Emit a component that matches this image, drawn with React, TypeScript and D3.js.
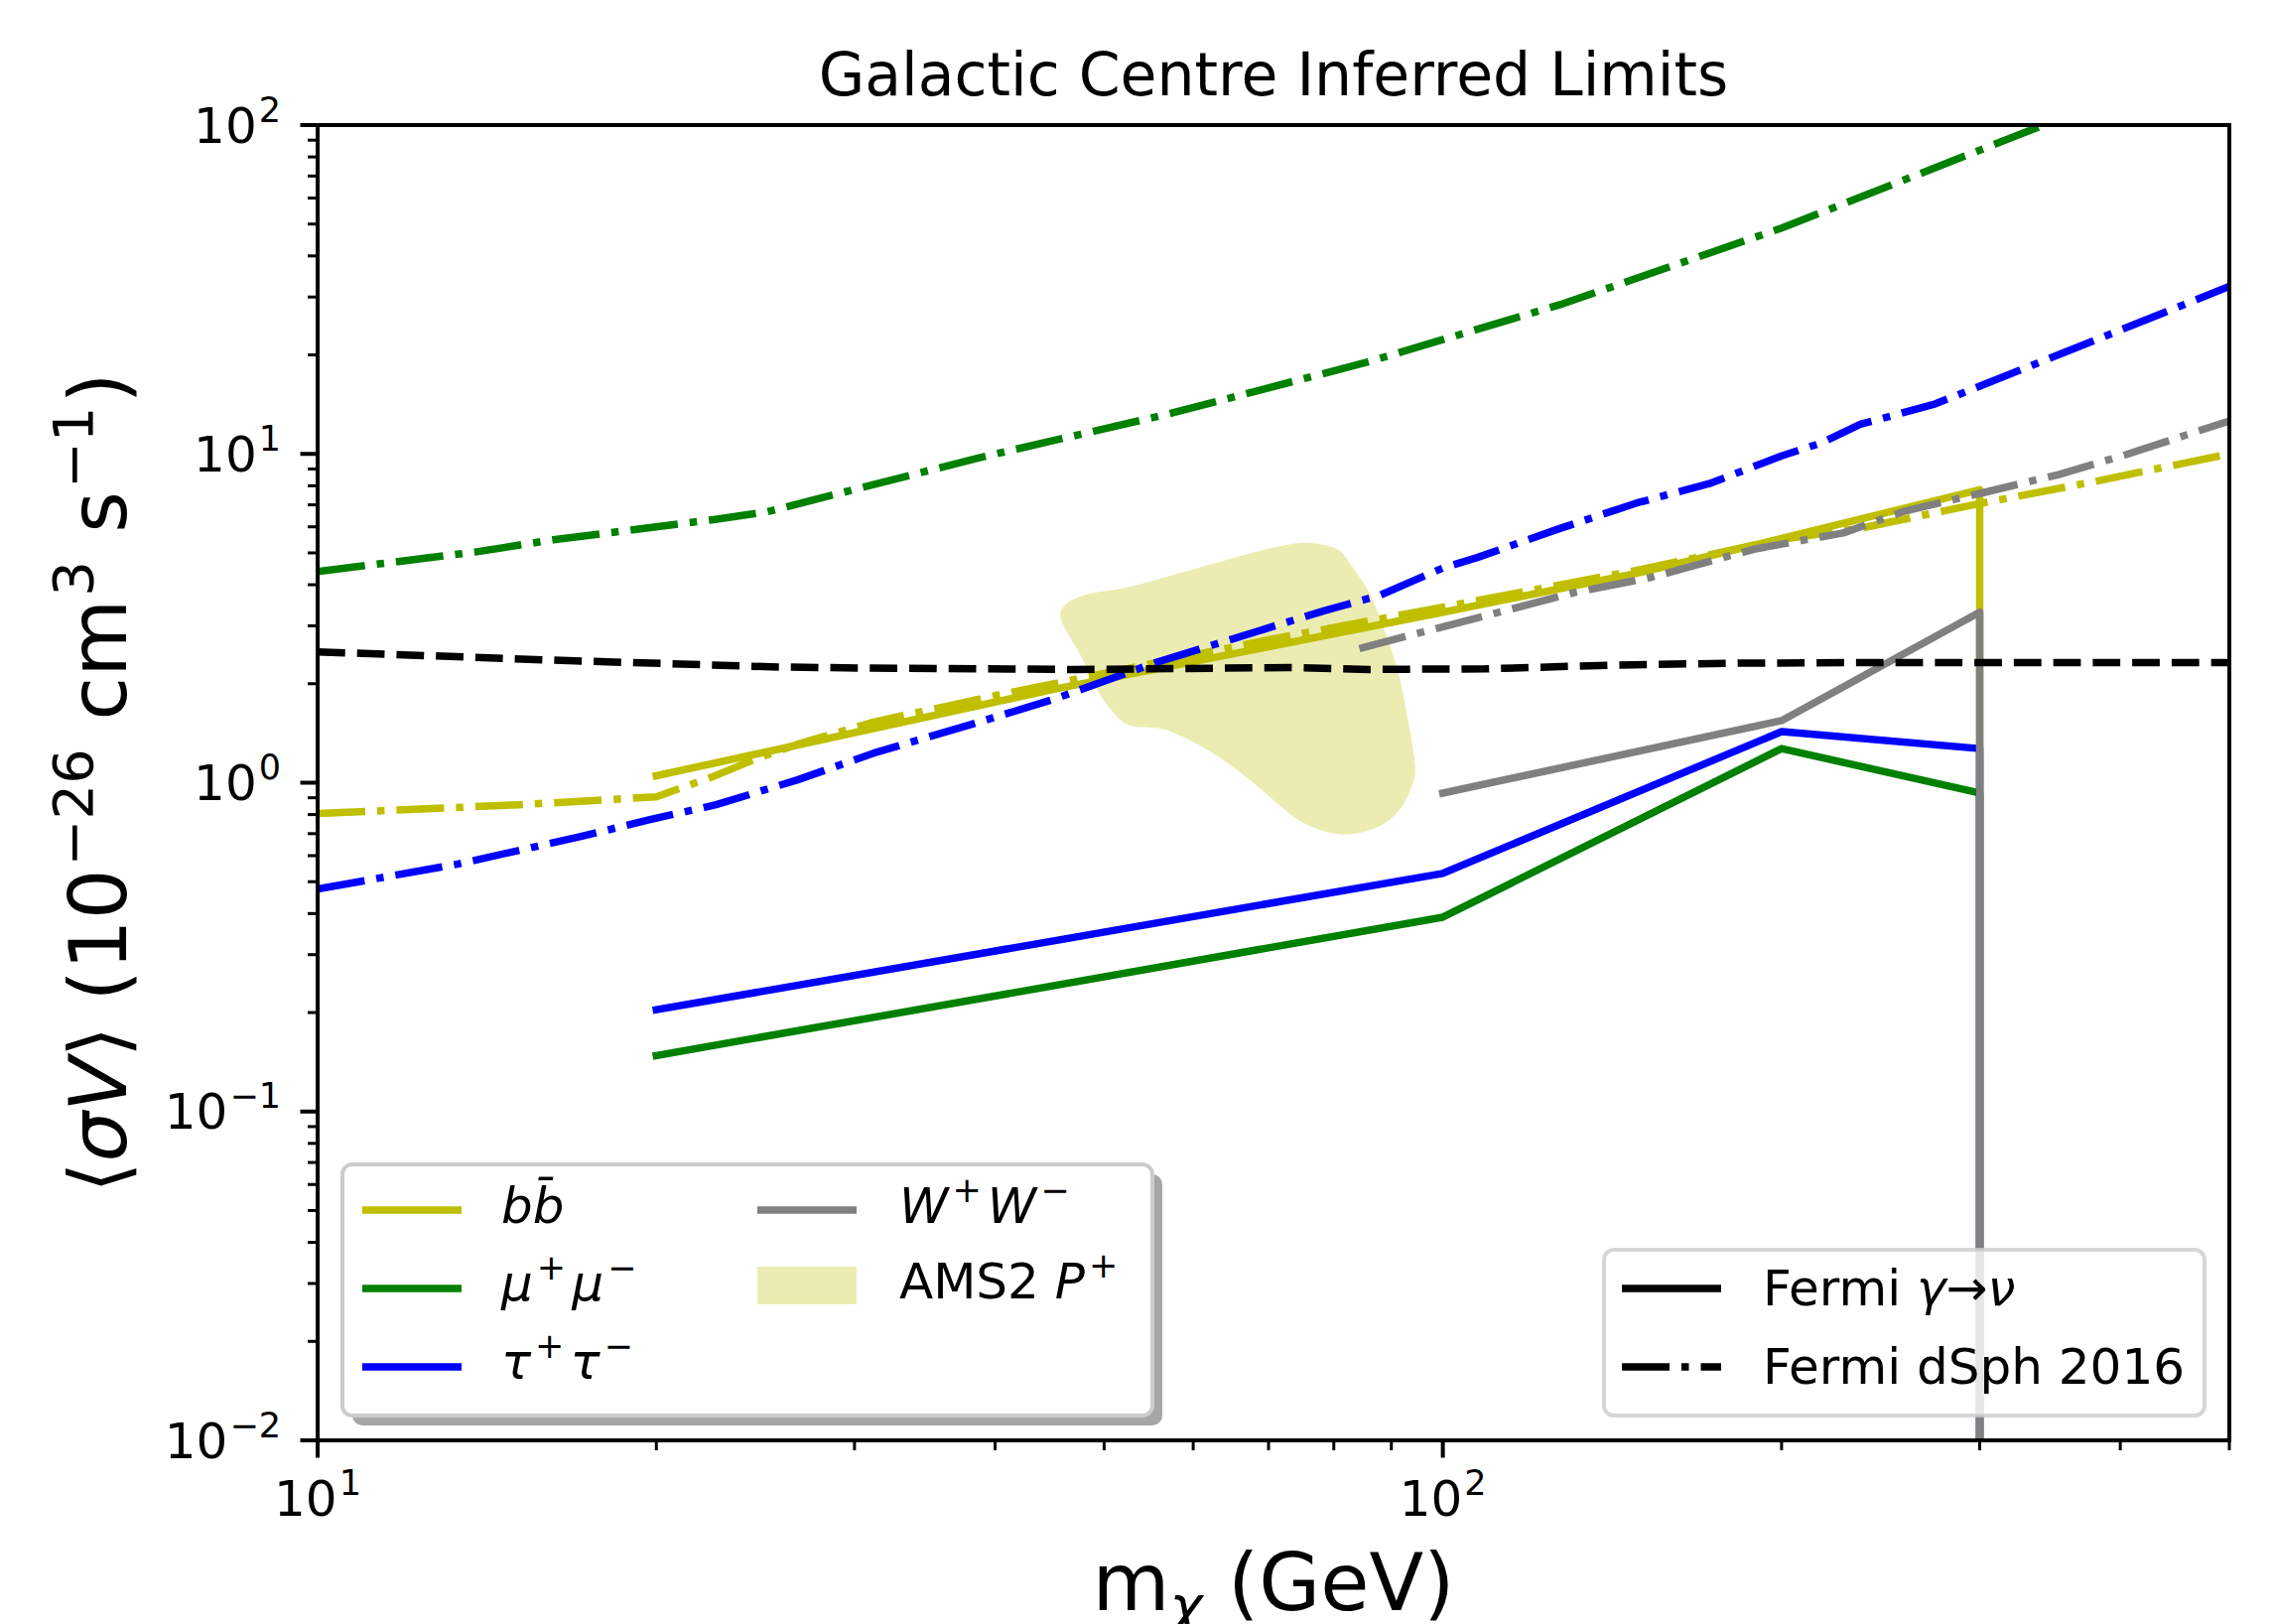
import React from 'react';
import * as d3 from 'd3';

// ---------- data ----------
const xDomain = [10, 500];
const yDomain = [0.01, 100];

const xMajorTicks = [10, 100];
const xMajorExp = ['1', '2'];
const yMajorTicks = [0.01, 0.1, 1, 10, 100];
const yMajorExp = ['\u22122', '\u22121', '0', '1', '2'];

// Fermi gamma -> nu (solid). A value of 0 drops to the floor (clipped on log axis).
const bbGammaMass = [20, 45, 100, 150, 200, 300, 300];
const bbGammaSigmaV = [1.05, 1.92, 3.30, 4.36, 5.53, 7.78, 0];
const mumuGammaMass = [20, 100, 200, 300, 300];
const mumuGammaSigmaV = [0.148, 0.39, 1.27, 0.93, 0];
const tautauGammaMass = [20, 100, 200, 300, 300];
const tautauGammaSigmaV = [0.204, 0.53, 1.43, 1.27, 0];
const wwGammaMass = [100, 200, 300, 300];
const wwGammaSigmaV = [0.93, 1.545, 3.30, 0];

// Fermi dSph 2016 (dash-dot)
const bbDsphMass = [10, 15.1, 20, 22.4, 24.5, 26.9, 31.2, 40, 50, 70, 100, 150, 200, 236, 296, 380, 500];
const bbDsphSigmaV = [0.806, 0.857, 0.906, 1.04, 1.18, 1.32, 1.53, 1.84, 2.15, 2.72, 3.42, 4.45, 5.5, 5.96, 7.0, 8.25, 10.0];
const mumuDsphMass = [10, 13.8, 16.2, 22.4, 25.1, 38.5, 57.4, 85.6, 127.8, 200, 339, 500];
const mumuDsphSigmaV = [4.39, 5.03, 5.48, 6.30, 6.67, 9.69, 13.3, 19.0, 28.6, 48.6, 98.9, 167];
const tautauDsphMass = [10, 13.3, 17.1, 19.7, 22.6, 26.7, 31.2, 38, 45, 55.8, 78.8, 87.8, 100, 107.3, 126.3, 148.7, 172.5, 200, 217, 235, 274, 330, 500];
const tautauDsphSigmaV = [0.475, 0.565, 0.685, 0.771, 0.857, 1.02, 1.23, 1.50, 1.79, 2.33, 3.35, 3.71, 4.5, 4.84, 5.89, 7.09, 8.12, 9.86, 10.8, 12.3, 14.2, 18.3, 32.3];
const wwDsphMass = [84.3, 108, 131, 153, 189, 227, 257, 301, 352, 404, 500];
const wwDsphSigmaV = [2.56, 3.19, 3.79, 4.21, 5.13, 5.75, 6.69, 7.60, 8.64, 9.93, 12.6];

// black dashed reference
const refMass = [10, 13.6, 16.7, 20.6, 25.3, 31, 47, 73, 86, 109, 143, 183, 250, 500];
const refSigmaV = [2.50, 2.41, 2.35, 2.30, 2.25, 2.23, 2.21, 2.24, 2.21, 2.22, 2.28, 2.31, 2.32, 2.32];

// AMS2 P+ region outline
const amsMass = [45.7, 46.1, 47.4, 49.2, 51.9, 70.7, 75.3, 78.8, 81.0, 83.2, 86.3, 88.6, 91.1, 92.8, 94.5, 94.0, 91.9, 88.6, 84.7, 81.7, 78.1, 74.6, 71.9, 68.1, 63.4, 59.5, 56.6, 55.3, 53.3, 52.1, 51.0, 49.6, 47.8];
const amsSigmaV = [3.23, 3.46, 3.66, 3.79, 3.90, 5.19, 5.37, 5.27, 5.07, 4.51, 3.71, 2.94, 2.23, 1.65, 1.085, 0.99, 0.842, 0.749, 0.707, 0.696, 0.715, 0.767, 0.842, 0.99, 1.19, 1.35, 1.45, 1.47, 1.48, 1.52, 1.63, 1.85, 2.39];

// ---------- layout / style ----------
const W = 2292, H = 1636;
const PL = 320, PR = 2246, PT = 126, PB = 1451;
const FONT = 'DejaVu Sans';
const LW = 7.5;
const DASHDOT = '48 12 7.5 12';
const DASHED = '27.75 12';
const C = { y: '#bfbf00', g: '#008000', b: '#0000ff', gray: '#808080', k: '#000000' };

const zip = (a: number[], b: number[]) => a.map((m, i) => [m, b[i]] as [number, number]);

type Seg = { t: string; it?: boolean; sup?: boolean; sub?: boolean; dx?: number };

// builds tspans with proper baseline tracking
function mt(segs: Seg[], f: number) {
  let level = 0; // current vertical offset
  return segs.map((s, i) => {
    const target = s.sup ? -f * 0.42 : s.sub ? f * 0.2 : 0;
    const dy = target - level;
    level = target;
    return (
      <tspan key={i} dy={dy || undefined} dx={s.dx} fontSize={s.sup || s.sub ? f * 0.7 : f}
        fontStyle={s.it ? 'italic' : 'normal'}>{s.t}</tspan>
    );
  });
}

export default function App() {
  const x = d3.scaleLog().domain(xDomain).range([PL, PR]);
  const y = d3.scaleLog().domain(yDomain).range([PB, PT]);
  const yv = (v: number) => (v > 0 ? y(v) : PB + 200);
  const line = d3.line<[number, number]>().x(d => x(d[0])).y(d => yv(d[1]));
  const area = d3.line<[number, number]>().x(d => x(d[0])).y(d => y(d[1])).curve(d3.curveCatmullRomClosed.alpha(0.5));

  const isMajor = (t: number) => Math.abs(Math.log10(t) - Math.round(Math.log10(t))) < 1e-9;
  const xMinor = x.ticks().filter(t => !isMajor(t));
  const yMinor = y.ticks().filter(t => !isMajor(t));

  const series = [
    { d: zip(bbGammaMass, bbGammaSigmaV), c: C.y, dash: undefined },
    { d: zip(bbDsphMass, bbDsphSigmaV), c: C.y, dash: DASHDOT },
    { d: zip(mumuGammaMass, mumuGammaSigmaV), c: C.g, dash: undefined },
    { d: zip(mumuDsphMass, mumuDsphSigmaV), c: C.g, dash: DASHDOT },
    { d: zip(tautauGammaMass, tautauGammaSigmaV), c: C.b, dash: undefined },
    { d: zip(tautauDsphMass, tautauDsphSigmaV), c: C.b, dash: DASHDOT },
    { d: zip(wwGammaMass, wwGammaSigmaV), c: C.gray, dash: undefined },
    { d: zip(wwDsphMass, wwDsphSigmaV), c: C.gray, dash: DASHDOT },
    { d: zip(refMass, refSigmaV), c: C.k, dash: DASHED },
  ];

  const LF = 50;
  const L1 = { x: 345, y: 1173, w: 816, h: 253 };
  const L2 = { x: 1616, y: 1259, w: 605, h: 167 };
  const col1H = 365, col2H = 763, hLen = 100, col1T = 505, col2T = 906;
  const rows = [1219, 1298, 1377];
  const rrows = [1298, 1377];

  return (
    <div style={{ position: 'absolute', left: 0, top: 0 }}>
      <svg width={W} height={H} style={{ display: 'block', background: '#fff' }} fontFamily={FONT}>
        <defs>
          <clipPath id="plotClip">
            <rect x={PL} y={PT} width={PR - PL} height={PB - PT} />
          </clipPath>
        </defs>
        <rect x={0} y={0} width={W} height={H} fill="#fff" />

        <g clipPath="url(#plotClip)">
          <path d={area(zip(amsMass, amsSigmaV)) || ''} fill={C.y} fillOpacity={0.3} stroke="none" />
          {series.map((s, i) => (
            <path key={i} d={line(s.d) || ''} fill="none" stroke={s.c} strokeWidth={LW}
              strokeDasharray={s.dash} strokeLinecap={s.dash ? 'butt' : 'square'} strokeLinejoin="round" />
          ))}
        </g>

        {/* spines */}
        <rect x={PL} y={PT} width={PR - PL} height={PB - PT} fill="none" stroke="#000" strokeWidth={4} />

        {/* y ticks */}
        {yMajorTicks.map((t, i) => (
          <g key={'ym' + i}>
            <line x1={PL - 17.5} x2={PL} y1={y(t)} y2={y(t)} stroke="#000" strokeWidth={4} />
            <text x={283} y={y(t) + 17.5} fontSize={50} textAnchor="end">
              {mt([{ t: '10' }, { t: yMajorExp[i], sup: true, dx: 2 }], 50)}
            </text>
          </g>
        ))}
        {yMinor.map((t, i) => (
          <line key={'yn' + i} x1={PL - 10} x2={PL} y1={y(t)} y2={y(t)} stroke="#000" strokeWidth={3} />
        ))}
        {/* x ticks */}
        {xMajorTicks.map((t, i) => (
          <g key={'xm' + i}>
            <line x1={x(t)} x2={x(t)} y1={PB} y2={PB + 17.5} stroke="#000" strokeWidth={4} />
            <text x={x(t)} y={1527} fontSize={50} textAnchor="middle">
              {mt([{ t: '10' }, { t: xMajorExp[i], sup: true, dx: 2 }], 50)}
            </text>
          </g>
        ))}
        {xMinor.map((t, i) => (
          <line key={'xn' + i} x1={x(t)} x2={x(t)} y1={PB} y2={PB + 10} stroke="#000" strokeWidth={3} />
        ))}

        {/* title */}
        <text x={(PL + PR) / 2} y={96} fontSize={60} textAnchor="middle">Galactic Centre Inferred Limits</text>

        {/* x label */}
        <text x={(PL + PR) / 2} y={1622} fontSize={80} textAnchor="middle">
          {mt([{ t: 'm' }, { t: 'χ', it: true, sub: true }, { t: ' (GeV)' }], 80)}
        </text>

        {/* y label */}
        <text transform={`translate(127, ${(PT + PB) / 2}) rotate(-90)`} fontSize={80} textAnchor="middle">
          {mt([
            { t: '⟨' }, { t: 'σV', it: true }, { t: '⟩ (10' },
            { t: '\u221226', sup: true, dx: 3 }, { t: ' cm', dx: 3 }, { t: '3', sup: true, dx: 3 },
            { t: ' s', dx: 3 }, { t: '\u22121', sup: true, dx: 3 }, { t: ')', dx: 3 },
          ], 80)}
        </text>

        {/* left legend with shadow */}
        <rect x={L1.x + 10} y={L1.y + 10} width={L1.w} height={L1.h} rx={10} fill="#a6a6a6" />
        <rect x={L1.x} y={L1.y} width={L1.w} height={L1.h} rx={10} fill="#fff" stroke="#cccccc" strokeWidth={4} />
        <line x1={col1H} x2={col1H + hLen} y1={rows[0]} y2={rows[0]} stroke={C.y} strokeWidth={LW} />
        <line x1={col1H} x2={col1H + hLen} y1={rows[1]} y2={rows[1]} stroke={C.g} strokeWidth={LW} />
        <line x1={col1H} x2={col1H + hLen} y1={rows[2]} y2={rows[2]} stroke={C.b} strokeWidth={LW} />
        <line x1={col2H} x2={col2H + hLen} y1={rows[0]} y2={rows[0]} stroke={C.gray} strokeWidth={LW} />
        <rect x={col2H} y={rows[1] - 22} width={hLen} height={38} fill={C.y} fillOpacity={0.3} />
        <text x={col1T} y={rows[0] + 13} fontSize={LF}>
          {mt([{ t: 'b', it: true }, { t: 'b\u0304', it: true }], LF)}
        </text>
        <text x={col1T} y={rows[1] + 12} fontSize={LF}>
          {mt([{ t: 'μ', it: true }, { t: '+', sup: true, dx: 4 }, { t: 'μ', it: true, dx: 6 }, { t: '\u2212', sup: true, dx: 4 }], LF)}
        </text>
        <text x={col1T} y={rows[2] + 12} fontSize={LF}>
          {mt([{ t: 'τ', it: true }, { t: '+', sup: true, dx: 4 }, { t: 'τ', it: true, dx: 6 }, { t: '\u2212', sup: true, dx: 4 }], LF)}
        </text>
        <text x={col2T} y={rows[0] + 13} fontSize={LF}>
          {mt([{ t: 'W', it: true }, { t: '+', sup: true, dx: 4 }, { t: 'W', it: true, dx: 6 }, { t: '\u2212', sup: true, dx: 4 }], LF)}
        </text>
        <text x={col2T} y={rows[1] + 10} fontSize={LF}>
          {mt([{ t: 'AMS2 ' }, { t: 'P', it: true }, { t: '+', sup: true, dx: 4 }], LF)}
        </text>

        {/* right legend */}
        <rect x={L2.x} y={L2.y} width={L2.w} height={L2.h} rx={10} fill="#fff" fillOpacity={0.8} stroke="#cccccc" strokeOpacity={0.8} strokeWidth={4} />
        <line x1={1634} x2={1734} y1={rrows[0]} y2={rrows[0]} stroke={C.k} strokeWidth={LW} />
        <line x1={1634} x2={1734} y1={rrows[1]} y2={rrows[1]} stroke={C.k} strokeWidth={LW} strokeDasharray={DASHDOT} />
        <text x={1776} y={rrows[0] + 17} fontSize={LF}>
          {mt([{ t: 'Fermi ' }, { t: 'γ', it: true }, { t: '→' }, { t: 'ν', it: true }], LF)}
        </text>
        <text x={1776} y={rrows[1] + 17} fontSize={LF}>Fermi dSph 2016</text>
      </svg>
    </div>
  );
}
